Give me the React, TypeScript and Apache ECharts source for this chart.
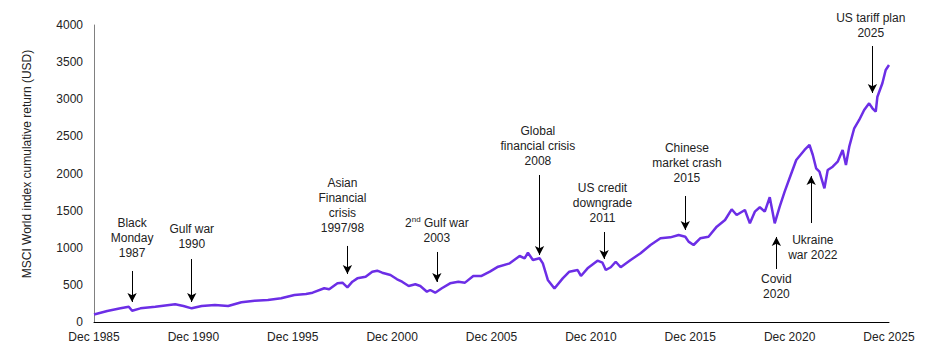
import React, { useEffect, useRef } from "react";
import * as echarts from "echarts";

const dates: string[] = [
  "1985-12", "1986-08", "1987-04", "1987-09", "1987-11", "1988-04", "1989-01", "1990-01",
  "1990-06", "1990-11", "1991-05", "1992-01", "1992-09", "1993-05", "1994-01", "1994-09",
  "1995-05", "1996-01", "1996-08", "1996-12", "1997-07", "1997-10", "1998-03", "1998-06",
  "1998-09", "1998-12", "1999-03", "1999-08", "1999-12", "2000-03", "2000-06", "2000-11",
  "2001-03", "2001-06", "2001-10", "2002-02", "2002-05", "2002-09", "2002-11", "2003-02",
  "2003-06", "2003-11", "2004-04", "2004-08", "2005-01", "2005-06", "2005-11", "2006-04",
  "2006-11", "2007-05", "2007-08", "2007-10", "2008-01", "2008-05", "2008-07", "2008-10",
  "2009-02", "2009-07", "2009-11", "2010-04", "2010-06", "2010-10", "2011-04", "2011-07",
  "2011-09", "2011-12", "2012-03", "2012-06", "2012-12", "2013-06", "2013-12", "2014-06",
  "2014-12", "2015-05", "2015-09", "2015-11", "2016-02", "2016-06", "2016-11", "2017-04",
  "2017-09", "2018-01", "2018-04", "2018-09", "2018-12", "2019-03", "2019-06", "2019-09",
  "2019-12", "2020-03", "2020-06", "2020-09", "2020-12", "2021-04", "2021-09", "2021-12",
  "2022-02", "2022-04", "2022-06", "2022-09", "2022-11", "2023-02", "2023-05", "2023-08",
  "2023-10", "2023-12", "2024-03", "2024-06", "2024-09", "2024-12", "2025-02", "2025-04",
  "2025-05", "2025-08", "2025-10", "2025-12",
];

const values: number[] = [
  100, 148, 184, 206, 152, 184, 206, 238,
  215, 184, 215, 229, 215, 265, 287, 296,
  319, 364, 377, 395, 454, 440, 521, 530,
  467, 543, 588, 610, 678, 691, 664, 633,
  575, 543, 485, 508, 485, 408, 431, 395,
  454, 521, 543, 530, 620, 620, 678, 745,
  790, 889, 858, 933, 835, 858, 790, 566,
  450, 588, 678, 700, 620, 723, 826, 799,
  700, 737, 812, 737, 835, 925, 1037, 1127,
  1140, 1172, 1149, 1082, 1037, 1127, 1149, 1284,
  1374, 1518, 1441, 1508, 1329, 1486, 1545, 1486,
  1680, 1329, 1553, 1755, 1940, 2182, 2317, 2384,
  2249, 2070, 2025, 1801, 2047, 2092, 2159, 2317,
  2115, 2361, 2609, 2721, 2855, 2945, 2878, 2833,
  3034, 3215, 3394, 3461,
];

const yTicks: number[] = [0, 500, 1000, 1500, 2000, 2500, 3000, 3500, 4000];
const xTickYears: number[] = [1985, 1990, 1995, 2000, 2005, 2010, 2015, 2020, 2025];

type Note = { text: string; textDate: string; textValue: number; arrowDate: string; from: number; to: number };

const notes: Note[] = [
  { text: "Black\nMonday\n1987", textDate: "1987-11", textValue: 1138, arrowDate: "1987-11", from: 687, to: 269 },
  { text: "Gulf war\n1990", textDate: "1990-11", textValue: 1151, arrowDate: "1990-11", from: 848, to: 269 },
  { text: "Asian\nFinancial\ncrisis\n1997/98", textDate: "1998-06", textValue: 1569, arrowDate: "1998-09", from: 1024, to: 646 },
  { text: "{t|2}{s|nd}{t| Gulf war}\n{t|2003}", textDate: "2003-03", textValue: 1226, arrowDate: "2003-03", from: 943, to: 539 },
  { text: "Global\nfinancial crisis\n2008", textDate: "2008-04", textValue: 2377, arrowDate: "2008-05", from: 1980, to: 902 },
  { text: "US credit\ndowngrade\n2011", textDate: "2011-07", textValue: 1603, arrowDate: "2011-08", from: 1212, to: 848 },
  { text: "Chinese\nmarket crash\n2015", textDate: "2015-10", textValue: 2135, arrowDate: "2015-09", from: 1697, to: 1239 },
  { text: "Covid\n2020", textDate: "2020-04", textValue: 478, arrowDate: "2020-04", from: 714, to: 1145 },
  { text: "Ukraine\nwar 2022", textDate: "2022-02", textValue: 997, arrowDate: "2022-01", from: 1333, to: 1966 },
  { text: "US tariff plan\n2025", textDate: "2025-01", textValue: 3993, arrowDate: "2025-02", from: 3717, to: 3084 },
];

const toIdx = (d: string): number => {
  const [y, m] = d.split("-").map(Number);
  return (y - 1985) * 12 + m - 12;
};

const FONT = "'Liberation Sans', Arial, sans-serif";
const TEXT = "#222";

export default function App() {
  const ref = useRef<HTMLDivElement>(null);
  useEffect(() => {
    document.body.style.margin = "0";
    if (!ref.current) return;
    const chart = echarts.init(ref.current, null, { renderer: "svg" });
    const seriesData = dates.map((d, i) => [toIdx(d), values[i]]);
    const xMin = 0;
    const xMax = (xTickYears[xTickYears.length - 1] - xTickYears[0]) * 12;
    chart.setOption({
      animation: false,
      textStyle: { fontFamily: FONT },
      grid: { left: 94, right: 47, top: 25, bottom: 41, containLabel: false },
      xAxis: {
        type: "value",
        min: xMin,
        max: xMax,
        interval: 60,
        axisLine: { show: true, lineStyle: { color: "#000", width: 1 } },
        axisTick: { show: false },
        splitLine: { show: false },
        axisLabel: {
          margin: 9,
          color: TEXT,
          fontSize: 12,
          fontFamily: FONT,
          formatter: (v: number) => "Dec " + (xTickYears[0] + v / 12),
        },
      },
      yAxis: {
        type: "value",
        min: yTicks[0],
        max: yTicks[yTicks.length - 1],
        interval: 500,
        axisLine: { show: true, lineStyle: { color: "#808080", width: 1 } },
        axisTick: { show: false },
        splitLine: { show: false },
        axisLabel: {
          margin: 11,
          color: TEXT,
          fontSize: 12,
          fontFamily: FONT,
          formatter: (v: number) => String(v),
        },
      },
      graphic: [
        {
          type: "text",
          x: 27,
          y: 164,
          rotation: Math.PI / 2,
          style: {
            text: "MSCI World index cumulative return (USD)",
            fill: TEXT,
            font: "12px " + FONT,
            align: "center",
            verticalAlign: "middle",
          },
        },
      ],
      series: [
        {
          type: "line",
          data: seriesData,
          showSymbol: false,
          symbol: "none",
          lineStyle: { color: "#6C2EE6", width: 2.5 },
          itemStyle: { color: "#6C2EE6" },
          silent: true,
          z: 3,
          markLine: {
            silent: true,
            symbol: ["none", "arrow"],
            symbolSize: [7, 9],
            label: { show: false },
            lineStyle: { color: "#000", width: 1, type: "solid" },
            data: notes.map((n) => [
              { coord: [toIdx(n.arrowDate), n.from] },
              { coord: [toIdx(n.arrowDate), n.to] },
            ]),
          },
          markPoint: {
            silent: true,
            symbol: "circle",
            symbolSize: 1,
            itemStyle: { color: "rgba(0,0,0,0)" },
            label: {
              show: true,
              position: "inside",
              color: TEXT,
              fontSize: 12,
              lineHeight: 15,
              fontFamily: FONT,
              align: "center",
              verticalAlign: "middle",
              rich: {
                t: { fontSize: 12, lineHeight: 15, color: TEXT, fontFamily: FONT },
                s: { fontSize: 8, lineHeight: 15, color: TEXT, fontFamily: FONT, verticalAlign: "top", padding: [0, 0, 4, 0] },
              },
            },
            data: notes.map((n) => ({
              coord: [toIdx(n.textDate), n.textValue],
              label: { formatter: n.text },
            })),
          },
        },
      ],
    });
    return () => chart.dispose();
  }, []);
  return <div ref={ref} style={{ width: 936, height: 363 }} />;
}
